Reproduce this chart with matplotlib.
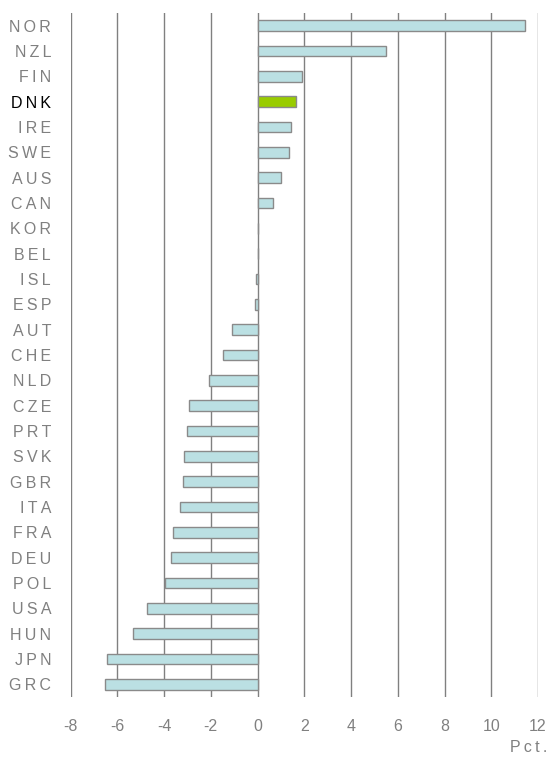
import numpy as np
import matplotlib.pyplot as plt
import matplotlib as mpl

mpl.rcParams['font.family'] = ['Liberation Sans', 'DejaVu Sans']

countries = ["NOR", "NZL", "FIN", "DNK", "IRE", "SWE", "AUS", "CAN", "KOR", "BEL",
             "ISL", "ESP", "AUT", "CHE", "NLD", "CZE", "PRT", "SVK", "GBR", "ITA",
             "FRA", "DEU", "POL", "USA", "HUN", "JPN", "GRC"]
values = [11.44, 5.48, 1.92, 1.66, 1.42, 1.35, 0.99, 0.68, 0.0, 0.0,
          -0.06, -0.12, -1.09, -1.46, -2.09, -2.94, -3.0, -3.13, -3.18, -3.31,
          -3.62, -3.68, -3.94, -4.74, -5.33, -6.44, -6.52]
highlight = "DNK"
xticks = np.arange(-8, 13, 2)

GREY = '#808080'
colors = ['#99cc00' if c == highlight else '#bbe0e3' for c in countries]


def spaced(s):
    # mimic the wide letter spacing of the original
    return '\u2009'.join(s)


fig = plt.figure(figsize=(5.48, 7.58), dpi=100)
ax = fig.add_axes([70.5/548, 1-697/758, (538-70.5)/548, (697-13)/758])

ypos = np.arange(len(countries))
ax.barh(ypos, values, height=0.42, color=colors, edgecolor='#8a8a8a', linewidth=1.0, zorder=3)

ax.set_xlim(-8, 12)
ax.set_ylim(len(countries) - 0.5, -0.5)
ax.set_xticks(xticks)
ax.set_xticklabels([str(t) for t in xticks])
ax.set_yticks(ypos)
ax.set_yticklabels([spaced(c) for c in countries])

ax.tick_params(axis='both', length=0, labelsize=11.5, colors=GREY)
ax.tick_params(axis='y', pad=14)
ax.tick_params(axis='x', pad=16)
for lbl, c in zip(ax.get_yticklabels(), countries):
    if c == highlight:
        lbl.set_color('black')

ax.grid(axis='x', color=GREY, linewidth=1.0, zorder=0)
ax.set_axisbelow(True)
for s in ax.spines.values():
    s.set_visible(False)

fig.text(547/548, 1-748/758, spaced('Pct.'), ha='right', va='center', fontsize=11.5, color=GREY)

plt.savefig('out.png', dpi=100)
